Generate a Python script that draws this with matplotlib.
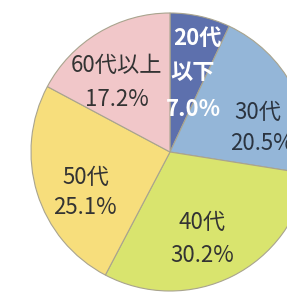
import matplotlib
matplotlib.use("Agg")
import matplotlib.pyplot as plt

plt.rcParams['font.family'] = ['Noto Sans CJK JP', 'DejaVu Sans']

categories = ["20代以下", "30代", "40代", "50代", "60代以上"]
values = [7.0, 20.5, 30.2, 25.1, 17.2]
colors = ["#5d70ad", "#94b6d8", "#d9e46e", "#f7de7c", "#f1c7c9"]
text_colors = ["white", "#2b3440", "#333333", "#333333", "#333333"]

W, H = 287, 307
fig = plt.figure(figsize=(W / 100, H / 100), dpi=100)
cx, cy, r = 170, 152, 139
ax = fig.add_axes([(cx - r) / W, (H - cy - r) / H, 2 * r / W, 2 * r / H])
ax.pie(values, colors=colors, startangle=90, counterclock=False,
       wedgeprops=dict(edgecolor="#a9a48e", linewidth=0.8))
ax.set_xlim(-1, 1)
ax.set_ylim(-1, 1)
ax.axis("off")

# label line pixel positions in the reference
lines = [
    [("20代", 197, 38), ("以下", 193, 72), (None, 193, 109)],
    [("30代", 258, 112), (None, 262, 143)],
    [("40代", 202, 222), (None, 202, 255)],
    [("50代", 86, 177), (None, 85, 207)],
    [("60代以上", 117, 65), (None, 117, 100)],
]
for cat, v, ls, tc in zip(categories, values, lines, text_colors):
    for s, px, py in ls:
        txt = s if s is not None else f"{v:.1f}%"
        ax.text((px - cx) / r, (cy - py) / r, txt, ha="center", va="center",
                fontsize=16, color=tc,
                fontweight="bold" if tc == "white" else "normal")

fig.savefig("out.png", dpi=100)
